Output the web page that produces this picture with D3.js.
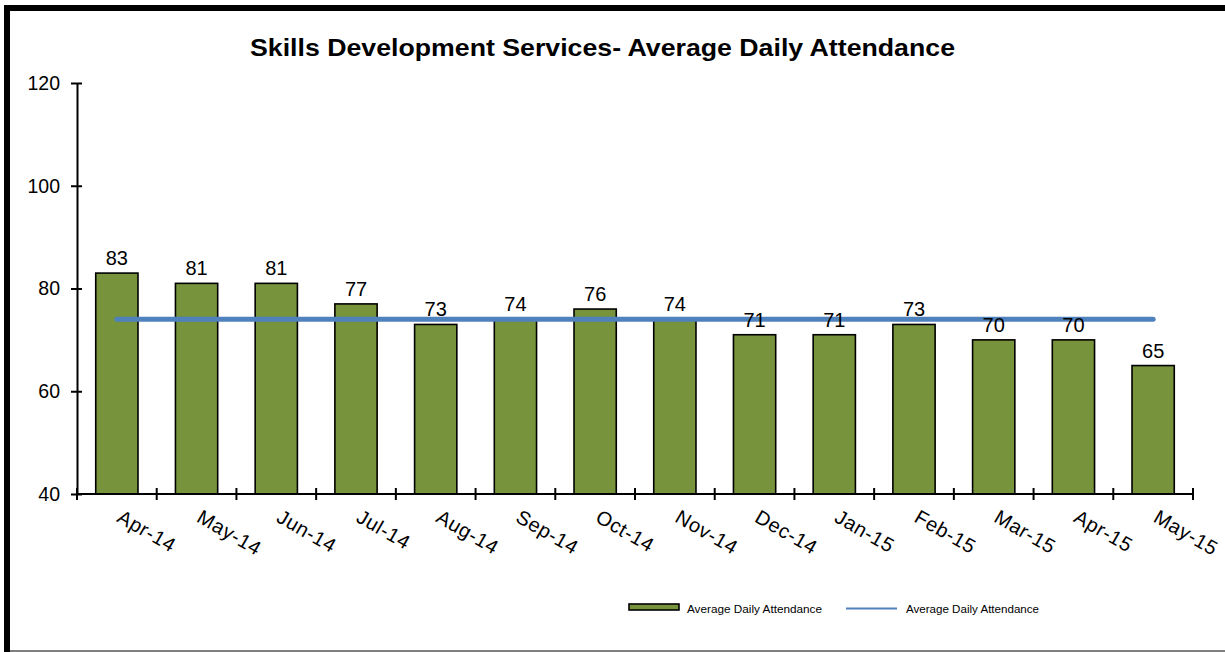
<!DOCTYPE html>
<html><head><meta charset="utf-8">
<script src="https://cdn.jsdelivr.net/npm/d3@7"></script>
<style>body{margin:0;background:#fff}svg{display:block;font-family:Arial,"Liberation Sans",sans-serif}</style>
</head><body>
<svg id="c" width="1225" height="652"></svg>
<script>
const months = ["Apr-14","May-14","Jun-14","Jul-14","Aug-14","Sep-14","Oct-14","Nov-14","Dec-14","Jan-15","Feb-15","Mar-15","Apr-15","May-15"];
const attendance = [83,81,81,77,73,74,76,74,71,71,73,70,70,65];
const averageLine = [74,74,74,74,74,74,74,74,74,74,74,74,74,74];
const yTicks = [40,60,80,100,120];
const title = "Skills Development Services- Average Daily Attendance";
const legendLabels = ["Average Daily Attendance","Average Daily Attendance"];

const svg = d3.select("#c");
// frame
svg.append("rect").attr("x",4).attr("y",5).attr("width",6).attr("height",647).attr("fill","#000");
svg.append("rect").attr("x",4).attr("y",5).attr("width",1221).attr("height",6).attr("fill","#000");
svg.append("line").attr("x1",10).attr("x2",1225).attr("y1",651).attr("y2",651).attr("stroke","#555").attr("stroke-width",1.5);

const x0 = 77, x1 = 1193, yB = 494, yT = 83;
const x = d3.scaleBand().domain(months).range([x0,x1]).paddingInner(0.47).paddingOuter(0.235);
const xb = d3.scaleBand().domain(months).range([x0,x1]);
const y = d3.scaleLinear().domain([40,120]).range([yB,yT]);

svg.append("text").attr("x",250).attr("y",56)
  .attr("font-weight","bold").attr("font-size",24)
  .attr("textLength",705).attr("lengthAdjust","spacingAndGlyphs").text(title);

// bars
svg.append("g").selectAll("rect").data(attendance).join("rect")
  .attr("x",(d,i)=>x(months[i])).attr("width",x.bandwidth())
  .attr("y",d=>y(d)).attr("height",d=>yB-y(d))
  .attr("fill","#77933c").attr("stroke","#000").attr("stroke-width",1.6);

// line
const line = d3.line().x((d,i)=>xb(months[i])+xb.bandwidth()/2).y(d=>y(d));
svg.append("path").datum(averageLine).attr("d",line).attr("fill","none")
  .attr("stroke","#4f81bd").attr("stroke-width",5).attr("stroke-linecap","round");

// data labels
svg.append("g").selectAll("text").data(attendance).join("text")
  .attr("x",(d,i)=>xb(months[i])+xb.bandwidth()/2).attr("y",d=>y(d)-8)
  .attr("text-anchor","middle").attr("font-size",20).attr("fill","#000").text(d=>d);

// y axis
const ya = svg.append("g").attr("transform",`translate(${x0},0)`)
  .call(d3.axisLeft(y).tickValues(yTicks).tickSize(0).tickPadding(17));
ya.select(".domain").attr("stroke","#000").attr("stroke-width",2);
ya.selectAll("text").attr("font-size",19.5).attr("font-family","Arial,'Liberation Sans',sans-serif").attr("fill","#000");
ya.selectAll(".tick").append("line").attr("x1",-6).attr("x2",5).attr("stroke","#000").attr("stroke-width",2);

// x axis
const xa = svg.append("g").attr("transform",`translate(0,${yB})`);
xa.append("line").attr("x1",x0).attr("x2",x1).attr("stroke","#000").attr("stroke-width",2);
const bounds = months.map((m,i)=>xb(m)).concat([x1]);
xa.selectAll("line.t").data(bounds).join("line").attr("class","t")
  .attr("x1",d=>d).attr("x2",d=>d).attr("y1",-6).attr("y2",6).attr("stroke","#000").attr("stroke-width",2);
xa.selectAll("text").data(months).join("text")
  .attr("transform",m=>`translate(${xb(m)+xb.bandwidth()/2-1},${27}) rotate(30)`)
  .attr("font-size",20).attr("letter-spacing",0.6).attr("fill","#000").text(m=>m);

// legend
svg.append("rect").attr("x",629).attr("y",604).attr("width",50).attr("height",6)
  .attr("fill","#77933c").attr("stroke","#000").attr("stroke-width",1.6);
svg.append("text").attr("x",687).attr("y",613).attr("font-size",11.5)
  .attr("textLength",135).attr("lengthAdjust","spacingAndGlyphs").text(legendLabels[0]);
svg.append("line").attr("x1",846).attr("x2",897).attr("y1",608.5).attr("y2",608.5).attr("stroke","#4f81bd").attr("stroke-width",2);
svg.append("text").attr("x",906).attr("y",613).attr("font-size",11.5)
  .attr("textLength",133).attr("lengthAdjust","spacingAndGlyphs").text(legendLabels[1]);
</script>
</body></html>
